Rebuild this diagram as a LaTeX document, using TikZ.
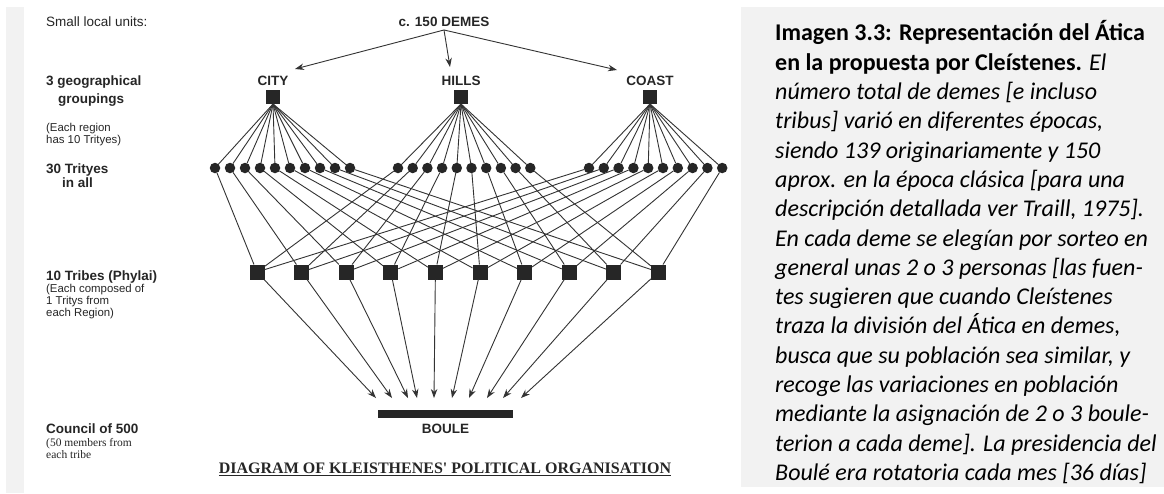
\documentclass[tikz,border=0pt]{standalone}
\usepackage{fontspec}
\setmainfont{Liberation Serif}
\setsansfont{Liberation Sans}
\newfontfamily\notefont{Carlito}
\usepackage{tkz-graph}
\usetikzlibrary{arrows.meta,positioning}
\colorlet{ink}{black!85}
\colorlet{wire}{black!80}
\colorlet{panel}{black!5}
\tikzset{
head/.style={font=\sffamily\bfseries\fontsize{13.5}{16}\selectfont,text=ink,inner sep=0pt},
side/.style={head,anchor=base west},
sidenote/.style={font=\sffamily\fontsize{11.4}{12}\selectfont,text=ink,inner sep=0pt,anchor=base west},
}
\begin{document}
\begin{tikzpicture}[x=1pt,y=-1pt]
\useasboundingbox (0,0) rectangle (1164,493);
\fill[white] (0,0) rectangle (1164,493);
\fill[panel] (6,7) rectangle (24,493);
\fill[panel] (741,7) rectangle (1164,487);
\GraphInit[vstyle=Normal]
\SetVertexNoLabel
\tikzset{VertexStyle/.style={shape=rectangle,fill=ink,minimum size=14pt,inner sep=0pt}}
\Vertex[x=273,y=97]{CITY}
\Vertex[x=461,y=97]{HILLS}
\Vertex[x=650,y=97]{COAST}
\tikzset{VertexStyle/.style={shape=rectangle,fill=ink,minimum size=15pt,inner sep=0pt}}
\foreach \i [evaluate=\i as \tx using 212.4+44.6*\i] in {1,...,10}{\Vertex[x=\tx,y=272]{T\i}}
\tikzset{VertexStyle/.style={shape=circle,fill=ink,minimum size=10.5pt,inner sep=0pt}}
\foreach \i [evaluate=\i as \cx using 200+15*\i,
evaluate=\i as \hx using 383.3+14.7*\i,
evaluate=\i as \kx using 574.2+14.8*\i] in {1,...,10}{
\Vertex[x=\cx,y=168]{C\i}
\Vertex[x=\hx,y=168]{H\i}
\Vertex[x=\kx,y=168]{K\i}
}
\node[head,inner ysep=3pt] (DEMES) at (444,22) {c. 150 DEMES};
\node[head,above=4pt of CITY] (lCITY) {CITY};
\node[head,above=4pt of HILLS] (lHILLS) {HILLS};
\node[head,above=4pt of COAST] (lCOAST) {COAST};
\node[fill=ink,minimum width=135pt,minimum height=8pt,inner sep=0pt] (BOULE) at (445.5,414) {};
\node[head,below=6pt of BOULE] (lBOULE) {BOULE};
\coordinate (toCITY) at (295,69);
\coordinate (toHILLS) at (450,67);
\coordinate (toCOAST) at (617,70);
\foreach \bx [count=\i] in {376,392,408,417,434,452,469,487,503,521}{\coordinate (B\i) at (\bx,398);}
\tikzset{EdgeStyle/.style={draw=wire,line width=0.9pt}}
\foreach \i in {1,...,10}{
\Edge(CITY.south)(C\i)
\Edge(HILLS.south)(H\i)
\Edge(COAST.south)(K\i)
\Edge(C\i)(T\i)
\Edge(H\i)(T\i)
\Edge(K\i)(T\i)
}
\tikzset{EdgeStyle/.style={draw=wire,line width=0.9pt,-{Stealth[length=9pt,width=6.5pt]}}}
\Edge(DEMES.south)(toCITY)
\Edge(DEMES.south)(toHILLS)
\Edge(DEMES.south)(toCOAST)
\foreach \i in {1,...,10}{\Edge(T\i)(B\i)}
\node[side,font=\sffamily\fontsize{13.5}{16}\selectfont] (units) at (46,26) {Small local units:};
\node[side] (geo) at (46,85) {3 geographical};
\node[side] (geo2) at (58,103) {groupings};
\node[sidenote] (geonote) at (46,131) {(Each region};
\node[sidenote] (geonote2) at (46,143.5) {has 10 Trityes)};
\node[side] (tri) at (46,173) {30 Trityes};
\node[side] (tri2) at (62,187) {in all};
\node[side] (tribes) at (46,280) {10 Tribes (Phylai)};
\node[sidenote] (tribenote) at (46,292.5) {(Each composed of};
\node[sidenote] (tribenote2) at (46,304.5) {1 Tritys from};
\node[sidenote] (tribenote3) at (46,316.5) {each Region)};
\node[side] (council) at (46,433) {Council of 500};
\node[sidenote,font=\rmfamily\fontsize{11.5}{12.5}\selectfont] (councilnote) at (46,446.5) {(50 members from};
\node[sidenote,font=\rmfamily\fontsize{11.5}{12.5}\selectfont] (councilnote2) at (46,458.5) {each tribe};
\node[font=\rmfamily\bfseries\fontsize{16}{19}\selectfont,text=ink,inner sep=0pt] (title) at (445,469) {\underline{DIAGRAM OF KLEISTHENES\textquotesingle{} POLITICAL ORGANISATION}};
\node[anchor=north west,inner sep=0pt,align=left,font=\notefont\itshape\fontsize{24}{29.3}\selectfont] (caption) at (775,17.7) {\rule{0pt}{23pt}\textbf{\upshape Imagen 3.3: Representación del Ática}\\
\textbf{\upshape en la propuesta por Cleístenes.} El\\
número total de demes [e incluso\\
tribus] varió en diferentes épocas,\\
siendo 139 originariamente y 150\\
aprox. en la época clásica [para una\\
descripción detallada ver Traill, 1975].\\
En cada deme se elegían por sorteo en\\
general unas 2 o 3 personas [las fuen-\\
tes sugieren que cuando Cleístenes\\
traza la división del Ática en demes,\\
busca que su población sea similar, y\\
recoge las variaciones en población\\
mediante la asignación de 2 o 3 boule-\\
terion a cada deme]. La presidencia del\\
Boulé era rotatoria cada mes [36 días]};
\end{tikzpicture}
\end{document}
